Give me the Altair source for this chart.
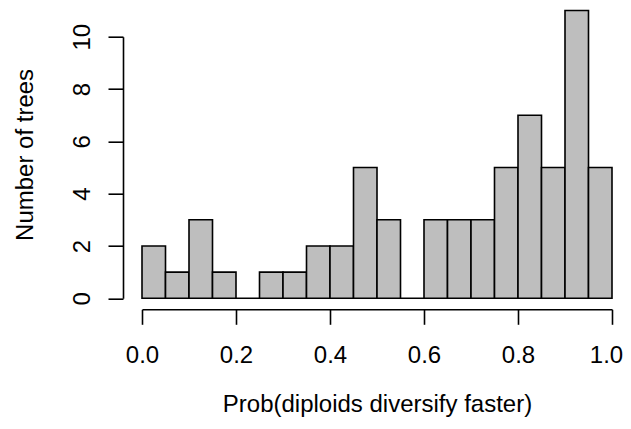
import altair as alt
import pandas as pd

bin_start = [0.00, 0.05, 0.10, 0.15, 0.20, 0.25, 0.30, 0.35, 0.40, 0.45,
             0.50, 0.55, 0.60, 0.65, 0.70, 0.75, 0.80, 0.85, 0.90, 0.95]
bin_end = [0.05, 0.10, 0.15, 0.20, 0.25, 0.30, 0.35, 0.40, 0.45, 0.50,
           0.55, 0.60, 0.65, 0.70, 0.75, 0.80, 0.85, 0.90, 0.95, 1.00]
counts = [2, 1, 3, 1, 0, 1, 1, 2, 2, 5,
          3, 0, 3, 3, 3, 5, 7, 5, 11, 5]

x_ticks = [0.0, 0.2, 0.4, 0.6, 0.8, 1.0]
y_ticks = [0, 2, 4, 6, 8, 10]

df = pd.DataFrame({"start": bin_start, "end": bin_end, "count": counts})

FONT = "Liberation Sans"

chart = alt.Chart(df).mark_bar(
    fill="#BEBEBE", stroke="black", strokeWidth=1.6, clip=False
).encode(
    x=alt.X("start:Q",
            scale=alt.Scale(domain=[0, 1], nice=False, zero=False),
            axis=alt.Axis(values=x_ticks, format=".1f", grid=False,
                          offset=11, tickSize=15, tickWidth=1.6, domainWidth=1.6,
                          domainColor="black", tickColor="black",
                          labelColor="black", labelFont=FONT, labelFontSize=24,
                          labelBaseline="alphabetic", labelPadding=38,
                          labelFlush=False,
                          labelOffset={"condition": {"test": "datum.value >= 0.99", "value": -6}, "value": 0},
                          title="Prob(diploids diversify faster)",
                          titleFont=FONT, titleFontSize=24, titleFontWeight="normal",
                          titleColor="black", titleX=235, titleY=102,
                          titleAlign="center", titleBaseline="alphabetic")),
    x2="end:Q",
    y=alt.Y("count:Q",
            scale=alt.Scale(domain=[0, 10], nice=False, zero=True),
            axis=alt.Axis(values=y_ticks, grid=False,
                          offset=19, tickSize=15, tickWidth=1.6, domainWidth=1.6,
                          domainColor="black", tickColor="black",
                          labelColor="black", labelFont=FONT, labelFontSize=24,
                          labelAngle=270, labelAlign="center",
                          labelBaseline="alphabetic", labelPadding=19,
                          labelFlush=False,
                          title="Number of trees",
                          titleFont=FONT, titleFontSize=24, titleFontWeight="normal",
                          titleColor="black", titleAngle=270, titleX=-91, titleY=117.7,
                          titleAlign="center", titleBaseline="alphabetic")),
    y2=alt.datum(0),
).properties(
    width=470,
    height=261.6,
    autosize=alt.AutoSizeParams(type="none"),
    padding={"left": 134, "top": 28.7, "right": 11, "bottom": 122},
).configure(background="white").configure_view(strokeWidth=0, stroke=None)

chart.save("out.html", embed_options={"renderer": "svg", "actions": False})
